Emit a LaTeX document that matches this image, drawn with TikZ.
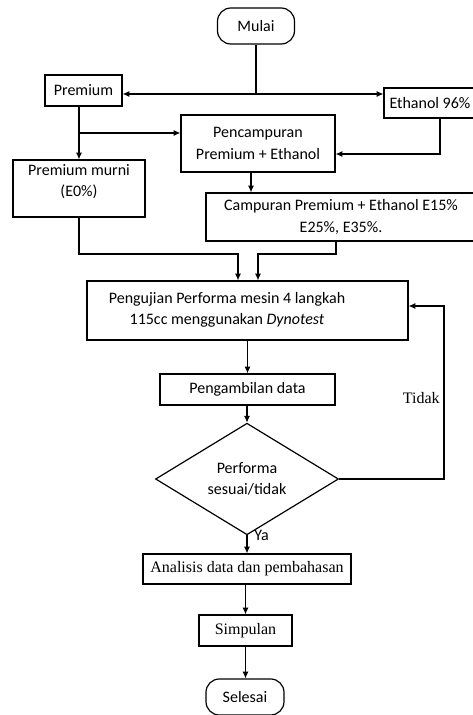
\documentclass[tikz,border=0pt]{standalone}
\usepackage{fontspec}
\setmainfont{Carlito}
\newfontfamily\timesf{Liberation Serif}
\usetikzlibrary{shapes.geometric,arrows.meta,calc}
\begin{document}
\begin{tikzpicture}[x=0.75pt,y=-0.75pt,
  box/.style={draw,line width=0.9pt,inner sep=0pt,font=\fontsize{12}{16}\selectfont,align=center},
  term/.style={box,rounded corners=10pt},
  serif/.style={font=\timesf\fontsize{12}{14}\selectfont},
  conn/.style={line width=0.8pt},
  arr/.style={conn,-{Latex[length=5pt,width=4.5pt]}},
  txt/.style={font=\fontsize{12}{16}\selectfont,align=center,inner sep=0pt}]
\useasboundingbox (0,0) rectangle (473,715);
\clip (0,0) rectangle (473,715);
\node[term,minimum width=57.75pt,minimum height=27pt] (start) at (256,26) {Mulai};
\node[box,minimum width=57.75pt,minimum height=23.25pt] (prem) at (83.5,90.5) {Premium};
\node[box,minimum width=69pt,minimum height=22.5pt] (eth) at (430,103) {Ethanol 96\%};
\node[box,minimum width=115.5pt,minimum height=42.75pt] (mix) at (258,143.5) {Pencampuran\\Premium + Ethanol};
\node[box,minimum width=99pt,minimum height=42.75pt] (pure) at (79,188.5) {};
\node[txt,anchor=north] (puret) at (79,164) {Premium murni\\(E0\%)};
\node[box,minimum width=202.5pt,minimum height=36pt] (blend) at (341,217) {Campuran Premium + Ethanol E15\%\\E25\%, E35\%.};
\node[box,minimum width=240.75pt,minimum height=44.25pt] (test) at (247.5,310.5) {};
\node[txt] (testt) at (227,310) {Pengujian Performa mesin 4 langkah\\115cc menggunakan \textit{Dynotest}};
\node[box,minimum width=131.25pt,minimum height=23.25pt] (data) at (247.5,389.5) {Pengambilan data};
\node[draw,diamond,line width=0.9pt,inner sep=0pt,minimum width=137.25pt,minimum height=64.5pt,align=center,font=\fontsize{12}{16}\selectfont] (dec) at (247,479) {Performa\\sesuai/tidak};
\node[box,serif,minimum width=156pt,minimum height=22.5pt] (ana) at (247,569) {Analisis data dan pembahasan};
\node[box,serif,minimum width=69.75pt,minimum height=23.25pt] (simp) at (245.5,630.5) {Simpulan};
\node[term,minimum width=58.5pt,minimum height=27pt] (end) at (245,697) {Selesai};
% connectors
\coordinate (j1) at (256,94);
\draw[conn] (start.south) -- (j1);
\draw[arr] (j1) -- (prem.east |- j1);
\draw[arr] (j1) -- (eth.west |- j1);
\draw[arr] (prem.south -| pure.north) -- (pure.north);
\coordinate (j2) at (79,133);
\draw[arr] (j2) -- (mix.west |- j2);
\coordinate (j3) at (440,154);
\draw[arr] (eth.south -| j3) -- (j3) -- (mix.east |- j3);
\coordinate (c1) at (251,0);
\draw[arr] (mix.south -| c1) -- (blend.north -| c1);
\coordinate (m1) at (238,254);
\coordinate (m2) at (258,254);
\draw[arr] (pure.south) -- (pure.south |- m1) -- (m1) -- (test.north -| m1);
\coordinate (c2) at (336,0);
\draw[arr] (blend.south -| c2) -- (c2 |- m2) -- (m2) -- (test.north -| m2);
\draw[arr] (test.south) -- (data.north);
\draw[arr] (data.south -| dec.north) -- (dec.north);
\coordinate (t1) at (444,0);
\coordinate (t2) at (0,306);
\draw[arr] (dec.east) -- (dec.east -| t1) -- (t1 |- t2) -- (test.east |- t2);
\node[serif,anchor=east,inner sep=0pt] (tidak) at (440,398) {Tidak};
\draw[arr] (dec.south) -- (ana.north);
\node[txt,anchor=west] (ya) at (254,535) {Ya};
\draw[arr] (ana.south -| simp.north) -- (simp.north);
\draw[arr] (simp.south) -- (end.north -| simp.south);
\end{tikzpicture}
\end{document}
